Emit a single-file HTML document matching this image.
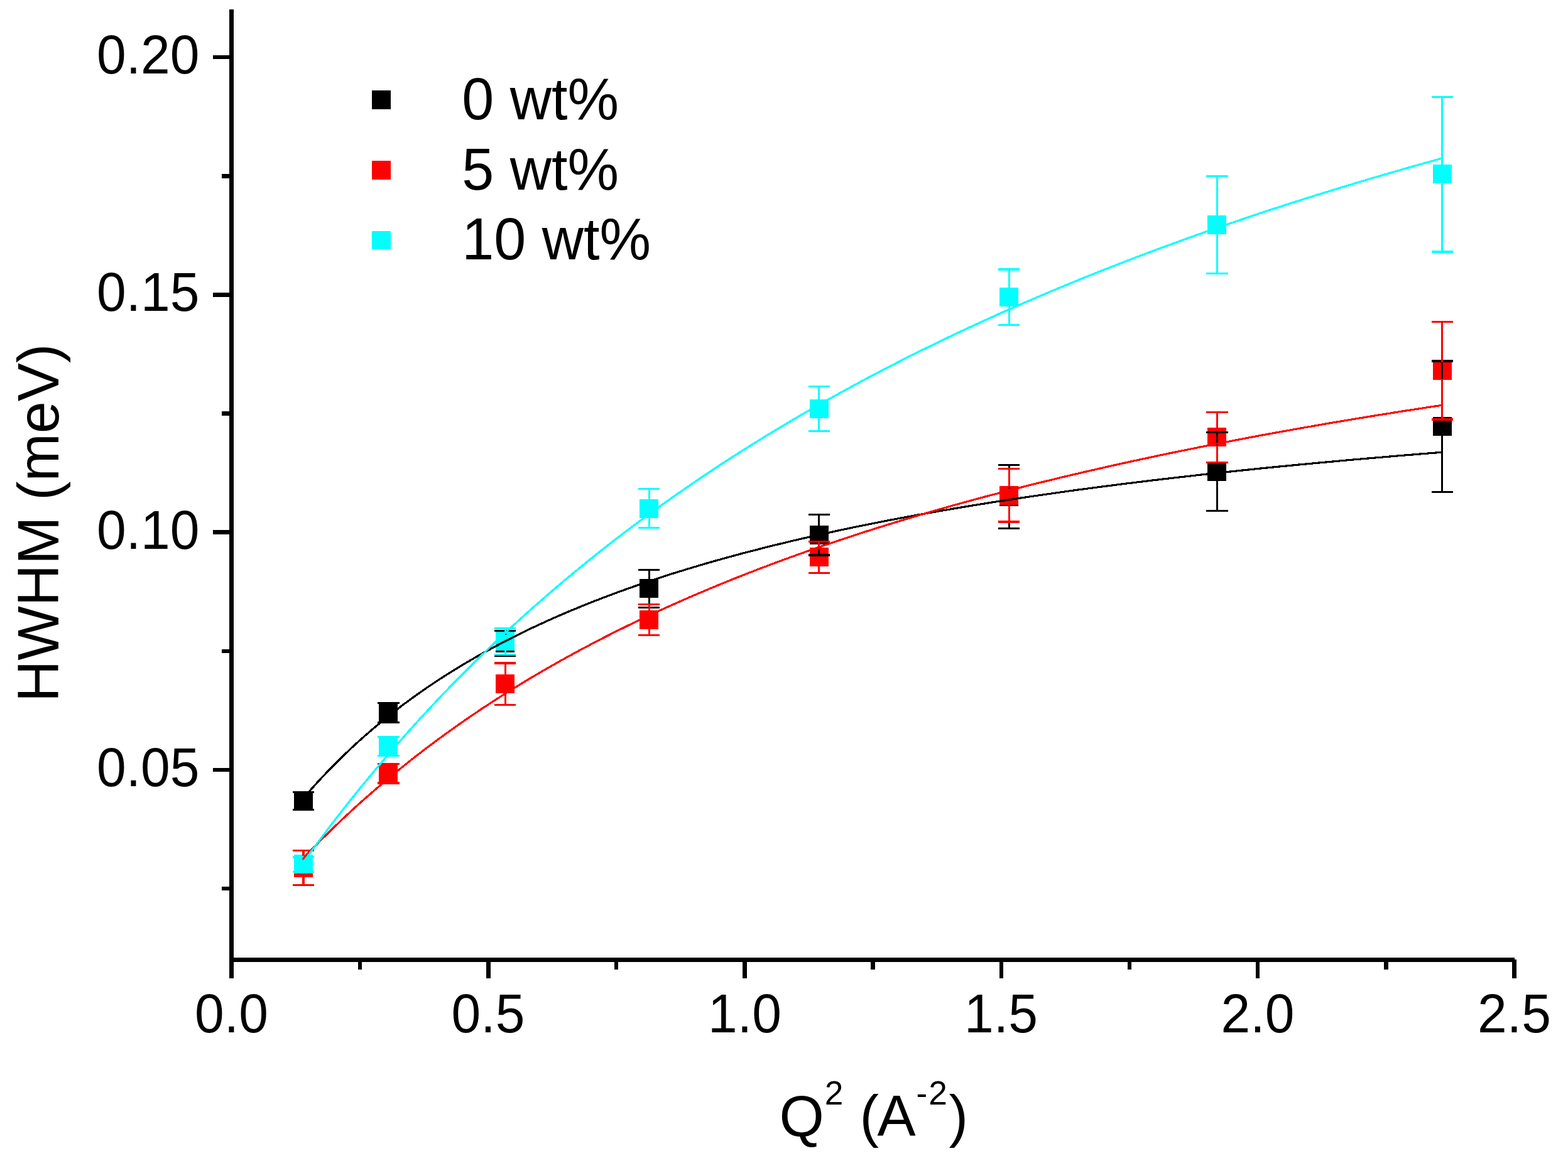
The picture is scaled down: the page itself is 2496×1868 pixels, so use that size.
<!DOCTYPE html>
<html lang="en">
<head>
<meta charset="utf-8">
<title>HWHM vs Q2</title>
<style>
html,body{margin:0;padding:0;background:#ffffff;}
body{width:2496px;height:1868px;overflow:hidden;}
svg{display:block;}
</style>
</head>
<body>
<svg width="2496" height="1868" viewBox="0 0 2496 1868" role="img" aria-label="HWHM (meV) versus Q squared for 0, 5 and 10 wt% samples with fitted curves">
<rect x="0" y="0" width="2496" height="1868" fill="#ffffff"/>
<g shape-rendering="crispEdges">
<rect x="468" y="1260" width="30" height="30" fill="#000000"/>
<rect x="603" y="1120" width="30" height="30" fill="#000000"/>
<rect x="789" y="1009" width="30" height="30" fill="#000000"/>
<rect x="1018" y="922" width="30" height="30" fill="#000000"/>
<rect x="1289" y="837" width="30" height="30" fill="#000000"/>
<rect x="1591" y="776" width="30" height="30" fill="#000000"/>
<rect x="1922" y="736" width="30" height="30" fill="#000000"/>
<rect x="2281" y="664" width="30" height="30" fill="#000000"/>
<rect x="468" y="1367" width="30" height="30" fill="#ff0000"/>
<rect x="603" y="1217" width="30" height="30" fill="#ff0000"/>
<rect x="789" y="1074" width="30" height="30" fill="#ff0000"/>
<rect x="1018" y="972" width="30" height="30" fill="#ff0000"/>
<rect x="1289" y="872" width="30" height="30" fill="#ff0000"/>
<rect x="1591" y="774" width="30" height="30" fill="#ff0000"/>
<rect x="1922" y="681" width="30" height="30" fill="#ff0000"/>
<rect x="2281" y="575" width="30" height="30" fill="#ff0000"/>
<rect x="468" y="1361" width="30" height="30" fill="#00ffff"/>
<rect x="603" y="1173" width="30" height="30" fill="#00ffff"/>
<rect x="789" y="1006" width="30" height="30" fill="#00ffff"/>
<rect x="1018" y="795" width="30" height="30" fill="#00ffff"/>
<rect x="1289" y="636" width="30" height="30" fill="#00ffff"/>
<rect x="1591" y="458" width="30" height="30" fill="#00ffff"/>
<rect x="1922" y="343" width="30" height="30" fill="#00ffff"/>
<rect x="2281" y="262" width="30" height="30" fill="#00ffff"/>
<rect x="466" y="1260" width="34" height="3" fill="#000000"/>
<rect x="466" y="1288" width="34" height="3" fill="#000000"/>
<rect x="601" y="1118" width="35" height="3" fill="#000000"/>
<rect x="601" y="1149" width="35" height="3" fill="#000000"/>
<rect x="617" y="1121" width="3" height="1" fill="#000000"/>
<rect x="617" y="1148" width="3" height="1" fill="#000000"/>
<rect x="787" y="1003" width="34" height="3" fill="#000000"/>
<rect x="787" y="1043" width="34" height="3" fill="#000000"/>
<rect x="803" y="1006" width="3" height="5" fill="#000000"/>
<rect x="803" y="1037" width="3" height="6" fill="#000000"/>
<rect x="1016" y="906" width="34" height="3" fill="#000000"/>
<rect x="1016" y="966" width="34" height="3" fill="#000000"/>
<rect x="1032" y="909" width="3" height="15" fill="#000000"/>
<rect x="1032" y="950" width="3" height="16" fill="#000000"/>
<rect x="1287" y="818" width="34" height="3" fill="#000000"/>
<rect x="1287" y="882" width="34" height="4" fill="#000000"/>
<rect x="1302" y="821" width="3" height="18" fill="#000000"/>
<rect x="1302" y="865" width="3" height="17" fill="#000000"/>
<rect x="1589" y="739" width="34" height="3" fill="#000000"/>
<rect x="1589" y="840" width="34" height="3" fill="#000000"/>
<rect x="1605" y="742" width="3" height="36" fill="#000000"/>
<rect x="1605" y="804" width="3" height="36" fill="#000000"/>
<rect x="1920" y="687" width="35" height="3" fill="#000000"/>
<rect x="1920" y="812" width="35" height="3" fill="#000000"/>
<rect x="1936" y="690" width="3" height="48" fill="#000000"/>
<rect x="1936" y="764" width="3" height="48" fill="#000000"/>
<rect x="2279" y="573" width="34" height="4" fill="#000000"/>
<rect x="2279" y="782" width="34" height="3" fill="#000000"/>
<rect x="2294" y="577" width="3" height="89" fill="#000000"/>
<rect x="2294" y="692" width="3" height="90" fill="#000000"/>
<rect x="466" y="1353" width="34" height="3" fill="#ff0000"/>
<rect x="466" y="1408" width="34" height="3" fill="#ff0000"/>
<rect x="481" y="1356" width="4" height="13" fill="#ff0000"/>
<rect x="481" y="1395" width="4" height="13" fill="#ff0000"/>
<rect x="601" y="1215" width="35" height="3" fill="#ff0000"/>
<rect x="601" y="1245" width="35" height="4" fill="#ff0000"/>
<rect x="617" y="1218" width="3" height="1" fill="#ff0000"/>
<rect x="787" y="1054" width="34" height="4" fill="#ff0000"/>
<rect x="787" y="1121" width="34" height="3" fill="#ff0000"/>
<rect x="803" y="1058" width="3" height="18" fill="#ff0000"/>
<rect x="803" y="1102" width="3" height="19" fill="#ff0000"/>
<rect x="1016" y="961" width="34" height="3" fill="#ff0000"/>
<rect x="1016" y="1010" width="34" height="3" fill="#ff0000"/>
<rect x="1032" y="964" width="3" height="10" fill="#ff0000"/>
<rect x="1032" y="1000" width="3" height="10" fill="#ff0000"/>
<rect x="1287" y="861" width="34" height="3" fill="#ff0000"/>
<rect x="1287" y="911" width="34" height="3" fill="#ff0000"/>
<rect x="1302" y="864" width="3" height="10" fill="#ff0000"/>
<rect x="1302" y="900" width="3" height="11" fill="#ff0000"/>
<rect x="1589" y="745" width="34" height="3" fill="#ff0000"/>
<rect x="1589" y="829" width="34" height="4" fill="#ff0000"/>
<rect x="1605" y="748" width="3" height="28" fill="#ff0000"/>
<rect x="1605" y="802" width="3" height="27" fill="#ff0000"/>
<rect x="1920" y="655" width="35" height="3" fill="#ff0000"/>
<rect x="1920" y="735" width="35" height="3" fill="#ff0000"/>
<rect x="1936" y="658" width="3" height="25" fill="#ff0000"/>
<rect x="1936" y="709" width="3" height="26" fill="#ff0000"/>
<rect x="2279" y="511" width="34" height="3" fill="#ff0000"/>
<rect x="2279" y="666" width="34" height="4" fill="#ff0000"/>
<rect x="2294" y="514" width="3" height="63" fill="#ff0000"/>
<rect x="2294" y="603" width="3" height="63" fill="#ff0000"/>
<rect x="466" y="1363" width="34" height="4" fill="#00ffff"/>
<rect x="466" y="1387" width="34" height="3" fill="#00ffff"/>
<rect x="601" y="1172" width="35" height="3" fill="#00ffff"/>
<rect x="601" y="1202" width="35" height="3" fill="#00ffff"/>
<rect x="617" y="1201" width="3" height="1" fill="#00ffff"/>
<rect x="787" y="999" width="34" height="3" fill="#00ffff"/>
<rect x="787" y="1041" width="34" height="3" fill="#00ffff"/>
<rect x="803" y="1002" width="3" height="6" fill="#00ffff"/>
<rect x="803" y="1034" width="3" height="7" fill="#00ffff"/>
<rect x="1016" y="777" width="34" height="3" fill="#00ffff"/>
<rect x="1016" y="839" width="34" height="3" fill="#00ffff"/>
<rect x="1032" y="780" width="3" height="17" fill="#00ffff"/>
<rect x="1032" y="823" width="3" height="16" fill="#00ffff"/>
<rect x="1287" y="614" width="34" height="3" fill="#00ffff"/>
<rect x="1287" y="685" width="34" height="3" fill="#00ffff"/>
<rect x="1302" y="617" width="3" height="21" fill="#00ffff"/>
<rect x="1302" y="664" width="3" height="21" fill="#00ffff"/>
<rect x="1589" y="427" width="34" height="4" fill="#00ffff"/>
<rect x="1589" y="516" width="34" height="3" fill="#00ffff"/>
<rect x="1605" y="431" width="3" height="29" fill="#00ffff"/>
<rect x="1605" y="486" width="3" height="30" fill="#00ffff"/>
<rect x="1920" y="279" width="35" height="3" fill="#00ffff"/>
<rect x="1920" y="434" width="35" height="3" fill="#00ffff"/>
<rect x="1936" y="282" width="3" height="63" fill="#00ffff"/>
<rect x="1936" y="371" width="3" height="63" fill="#00ffff"/>
<rect x="2279" y="153" width="34" height="3" fill="#00ffff"/>
<rect x="2279" y="399" width="34" height="4" fill="#00ffff"/>
<rect x="2294" y="156" width="3" height="108" fill="#00ffff"/>
<rect x="2294" y="290" width="3" height="109" fill="#00ffff"/>
</g>
<g fill="none" stroke-width="3.2" stroke-linejoin="round" stroke-linecap="butt" shape-rendering="crispEdges">
<path d="M483.0,1271.2 L490.0,1263.0 L497.0,1255.1 L504.0,1247.3 L511.0,1239.7 L518.0,1232.3 L525.0,1225.0 L532.0,1217.8 L539.0,1210.8 L546.0,1204.0 L553.0,1197.3 L560.0,1190.7 L567.0,1184.2 L574.0,1177.9 L581.0,1171.7 L588.0,1165.6 L595.0,1159.6 L602.0,1153.7 L609.0,1147.9 L616.0,1142.3 L623.0,1136.7 L630.0,1131.3 L637.0,1125.9 L644.0,1120.6 L651.0,1115.5 L658.0,1110.4 L664.9,1105.4 L671.9,1100.5 L678.9,1095.6 L685.9,1090.9 L692.9,1086.2 L699.9,1081.6 L706.9,1077.1 L713.9,1072.7 L720.9,1068.3 L727.9,1064.0 L734.9,1059.7 L741.9,1055.6 L748.9,1051.5 L755.9,1047.4 L762.9,1043.4 L769.9,1039.5 L776.9,1035.7 L783.9,1031.9 L790.9,1028.1 L797.9,1024.4 L804.9,1020.8 L811.9,1017.2 L818.9,1013.7 L825.9,1010.2 L832.9,1006.7 L839.9,1003.4 L846.9,1000.0 L853.9,996.7 L860.9,993.5 L867.9,990.3 L874.9,987.1 L881.9,984.0 L888.9,980.9 L895.9,977.9 L902.9,974.9 L909.9,972.0 L916.9,969.1 L923.9,966.2 L930.9,963.3 L937.9,960.5 L944.9,957.8 L951.9,955.1 L958.9,952.4 L965.9,949.7 L972.9,947.1 L979.9,944.5 L986.9,941.9 L993.9,939.4 L1000.9,936.9 L1007.9,934.4 L1014.9,932.0 L1021.9,929.5 L1028.8,927.2 L1035.8,924.8 L1042.8,922.5 L1049.8,920.2 L1056.8,917.9 L1063.8,915.6 L1070.8,913.4 L1077.8,911.2 L1084.8,909.1 L1091.8,906.9 L1098.8,904.8 L1105.8,902.7 L1112.8,900.6 L1119.8,898.5 L1126.8,896.5 L1133.8,894.5 L1140.8,892.5 L1147.8,890.6 L1154.8,888.6 L1161.8,886.7 L1168.8,884.8 L1175.8,882.9 L1182.8,881.0 L1189.8,879.2 L1196.8,877.4 L1203.8,875.6 L1210.8,873.8 L1217.8,872.0 L1224.8,870.2 L1231.8,868.5 L1238.8,866.8 L1245.8,865.1 L1252.8,863.4 L1259.8,861.7 L1266.8,860.1 L1273.8,858.5 L1280.8,856.8 L1287.8,855.2 L1294.8,853.6 L1301.8,852.1 L1308.8,850.5 L1315.8,849.0 L1322.8,847.5 L1329.8,845.9 L1336.8,844.4 L1343.8,843.0 L1350.8,841.5 L1357.8,840.0 L1364.8,838.6 L1371.8,837.2 L1378.8,835.7 L1385.8,834.3 L1392.7,832.9 L1399.7,831.6 L1406.7,830.2 L1413.7,828.8 L1420.7,827.5 L1427.7,826.2 L1434.7,824.9 L1441.7,823.6 L1448.7,822.3 L1455.7,821.0 L1462.7,819.7 L1469.7,818.4 L1476.7,817.2 L1483.7,815.9 L1490.7,814.7 L1497.7,813.5 L1504.7,812.3 L1511.7,811.1 L1518.7,809.9 L1525.7,808.7 L1532.7,807.6 L1539.7,806.4 L1546.7,805.2 L1553.7,804.1 L1560.7,803.0 L1567.7,801.9 L1574.7,800.7 L1581.7,799.6 L1588.7,798.5 L1595.7,797.5 L1602.7,796.4 L1609.7,795.3 L1616.7,794.2 L1623.7,793.2 L1630.7,792.2 L1637.7,791.1 L1644.7,790.1 L1651.7,789.1 L1658.7,788.1 L1665.7,787.1 L1672.7,786.1 L1679.7,785.1 L1686.7,784.1 L1693.7,783.1 L1700.7,782.1 L1707.7,781.2 L1714.7,780.2 L1721.7,779.3 L1728.7,778.4 L1735.7,777.4 L1742.7,776.5 L1749.7,775.6 L1756.6,774.7 L1763.6,773.8 L1770.6,772.9 L1777.6,772.0 L1784.6,771.1 L1791.6,770.2 L1798.6,769.4 L1805.6,768.5 L1812.6,767.6 L1819.6,766.8 L1826.6,765.9 L1833.6,765.1 L1840.6,764.3 L1847.6,763.4 L1854.6,762.6 L1861.6,761.8 L1868.6,761.0 L1875.6,760.2 L1882.6,759.4 L1889.6,758.6 L1896.6,757.8 L1903.6,757.0 L1910.6,756.2 L1917.6,755.4 L1924.6,754.7 L1931.6,753.9 L1938.6,753.1 L1945.6,752.4 L1952.6,751.6 L1959.6,750.9 L1966.6,750.2 L1973.6,749.4 L1980.6,748.7 L1987.6,748.0 L1994.6,747.3 L2001.6,746.5 L2008.6,745.8 L2015.6,745.1 L2022.6,744.4 L2029.6,743.7 L2036.6,743.0 L2043.6,742.4 L2050.6,741.7 L2057.6,741.0 L2064.6,740.3 L2071.6,739.6 L2078.6,739.0 L2085.6,738.3 L2092.6,737.7 L2099.6,737.0 L2106.6,736.4 L2113.6,735.7 L2120.5,735.1 L2127.5,734.4 L2134.5,733.8 L2141.5,733.2 L2148.5,732.5 L2155.5,731.9 L2162.5,731.3 L2169.5,730.7 L2176.5,730.1 L2183.5,729.5 L2190.5,728.9 L2197.5,728.3 L2204.5,727.7 L2211.5,727.1 L2218.5,726.5 L2225.5,725.9 L2232.5,725.3 L2239.5,724.7 L2246.5,724.2 L2253.5,723.6 L2260.5,723.0 L2267.5,722.5 L2274.5,721.9 L2281.5,721.3 L2288.5,720.8 L2295.5,720.2" stroke="#000000"/>
<path d="M483.0,1366.5 L490.0,1359.1 L497.0,1351.9 L504.0,1344.8 L511.0,1337.7 L518.0,1330.8 L525.0,1323.9 L532.0,1317.1 L539.0,1310.4 L546.0,1303.7 L553.0,1297.2 L560.0,1290.7 L567.0,1284.3 L574.0,1278.0 L581.0,1271.7 L588.0,1265.6 L595.0,1259.5 L602.0,1253.4 L609.0,1247.5 L616.0,1241.6 L623.0,1235.7 L630.0,1230.0 L637.0,1224.3 L644.0,1218.6 L651.0,1213.0 L658.0,1207.5 L664.9,1202.1 L671.9,1196.7 L678.9,1191.3 L685.9,1186.0 L692.9,1180.8 L699.9,1175.7 L706.9,1170.5 L713.9,1165.5 L720.9,1160.5 L727.9,1155.5 L734.9,1150.6 L741.9,1145.8 L748.9,1140.9 L755.9,1136.2 L762.9,1131.5 L769.9,1126.8 L776.9,1122.2 L783.9,1117.6 L790.9,1113.1 L797.9,1108.6 L804.9,1104.2 L811.9,1099.8 L818.9,1095.5 L825.9,1091.2 L832.9,1086.9 L839.9,1082.7 L846.9,1078.5 L853.9,1074.4 L860.9,1070.3 L867.9,1066.2 L874.9,1062.2 L881.9,1058.2 L888.9,1054.2 L895.9,1050.3 L902.9,1046.4 L909.9,1042.6 L916.9,1038.8 L923.9,1035.0 L930.9,1031.3 L937.9,1027.6 L944.9,1023.9 L951.9,1020.2 L958.9,1016.6 L965.9,1013.1 L972.9,1009.5 L979.9,1006.0 L986.9,1002.5 L993.9,999.1 L1000.9,995.6 L1007.9,992.2 L1014.9,988.9 L1021.9,985.5 L1028.8,982.2 L1035.8,979.0 L1042.8,975.7 L1049.8,972.5 L1056.8,969.3 L1063.8,966.1 L1070.8,963.0 L1077.8,959.8 L1084.8,956.8 L1091.8,953.7 L1098.8,950.6 L1105.8,947.6 L1112.8,944.6 L1119.8,941.7 L1126.8,938.7 L1133.8,935.8 L1140.8,932.9 L1147.8,930.0 L1154.8,927.2 L1161.8,924.3 L1168.8,921.5 L1175.8,918.7 L1182.8,916.0 L1189.8,913.2 L1196.8,910.5 L1203.8,907.8 L1210.8,905.1 L1217.8,902.5 L1224.8,899.8 L1231.8,897.2 L1238.8,894.6 L1245.8,892.0 L1252.8,889.5 L1259.8,886.9 L1266.8,884.4 L1273.8,881.9 L1280.8,879.4 L1287.8,876.9 L1294.8,874.5 L1301.8,872.0 L1308.8,869.6 L1315.8,867.2 L1322.8,864.9 L1329.8,862.5 L1336.8,860.1 L1343.8,857.8 L1350.8,855.5 L1357.8,853.2 L1364.8,850.9 L1371.8,848.7 L1378.8,846.4 L1385.8,844.2 L1392.7,842.0 L1399.7,839.8 L1406.7,837.6 L1413.7,835.4 L1420.7,833.2 L1427.7,831.1 L1434.7,829.0 L1441.7,826.9 L1448.7,824.8 L1455.7,822.7 L1462.7,820.6 L1469.7,818.6 L1476.7,816.5 L1483.7,814.5 L1490.7,812.5 L1497.7,810.5 L1504.7,808.5 L1511.7,806.5 L1518.7,804.5 L1525.7,802.6 L1532.7,800.6 L1539.7,798.7 L1546.7,796.8 L1553.7,794.9 L1560.7,793.0 L1567.7,791.1 L1574.7,789.3 L1581.7,787.4 L1588.7,785.6 L1595.7,783.8 L1602.7,781.9 L1609.7,780.1 L1616.7,778.3 L1623.7,776.6 L1630.7,774.8 L1637.7,773.0 L1644.7,771.3 L1651.7,769.5 L1658.7,767.8 L1665.7,766.1 L1672.7,764.4 L1679.7,762.7 L1686.7,761.0 L1693.7,759.3 L1700.7,757.7 L1707.7,756.0 L1714.7,754.4 L1721.7,752.7 L1728.7,751.1 L1735.7,749.5 L1742.7,747.9 L1749.7,746.3 L1756.6,744.7 L1763.6,743.1 L1770.6,741.5 L1777.6,740.0 L1784.6,738.4 L1791.6,736.9 L1798.6,735.3 L1805.6,733.8 L1812.6,732.3 L1819.6,730.8 L1826.6,729.3 L1833.6,727.8 L1840.6,726.3 L1847.6,724.8 L1854.6,723.4 L1861.6,721.9 L1868.6,720.5 L1875.6,719.0 L1882.6,717.6 L1889.6,716.2 L1896.6,714.8 L1903.6,713.4 L1910.6,711.9 L1917.6,710.6 L1924.6,709.2 L1931.6,707.8 L1938.6,706.4 L1945.6,705.1 L1952.6,703.7 L1959.6,702.4 L1966.6,701.0 L1973.6,699.7 L1980.6,698.4 L1987.6,697.0 L1994.6,695.7 L2001.6,694.4 L2008.6,693.1 L2015.6,691.8 L2022.6,690.5 L2029.6,689.3 L2036.6,688.0 L2043.6,686.7 L2050.6,685.5 L2057.6,684.2 L2064.6,683.0 L2071.6,681.7 L2078.6,680.5 L2085.6,679.3 L2092.6,678.1 L2099.6,676.9 L2106.6,675.6 L2113.6,674.4 L2120.5,673.2 L2127.5,672.1 L2134.5,670.9 L2141.5,669.7 L2148.5,668.5 L2155.5,667.4 L2162.5,666.2 L2169.5,665.1 L2176.5,663.9 L2183.5,662.8 L2190.5,661.6 L2197.5,660.5 L2204.5,659.4 L2211.5,658.3 L2218.5,657.1 L2225.5,656.0 L2232.5,654.9 L2239.5,653.8 L2246.5,652.8 L2253.5,651.7 L2260.5,650.6 L2267.5,649.5 L2274.5,648.4 L2281.5,647.4 L2288.5,646.3 L2295.5,645.3" stroke="#ff0000"/>
<path d="M483.0,1373.0 L490.0,1363.4 L497.0,1353.8 L504.0,1344.3 L511.0,1334.9 L518.0,1325.6 L525.0,1316.4 L532.0,1307.3 L539.0,1298.2 L546.0,1289.3 L553.0,1280.4 L560.0,1271.6 L567.0,1262.9 L574.0,1254.2 L581.0,1245.7 L588.0,1237.2 L595.0,1228.8 L602.0,1220.4 L609.0,1212.2 L616.0,1204.0 L623.0,1195.9 L630.0,1187.8 L637.0,1179.8 L644.0,1171.9 L651.0,1164.1 L658.0,1156.3 L664.9,1148.6 L671.9,1141.0 L678.9,1133.4 L685.9,1125.9 L692.9,1118.4 L699.9,1111.0 L706.9,1103.7 L713.9,1096.4 L720.9,1089.2 L727.9,1082.1 L734.9,1075.0 L741.9,1068.0 L748.9,1061.0 L755.9,1054.1 L762.9,1047.2 L769.9,1040.4 L776.9,1033.7 L783.9,1027.0 L790.9,1020.3 L797.9,1013.7 L804.9,1007.2 L811.9,1000.7 L818.9,994.3 L825.9,987.9 L832.9,981.5 L839.9,975.2 L846.9,969.0 L853.9,962.8 L860.9,956.7 L867.9,950.6 L874.9,944.5 L881.9,938.5 L888.9,932.5 L895.9,926.6 L902.9,920.7 L909.9,914.9 L916.9,909.1 L923.9,903.4 L930.9,897.7 L937.9,892.0 L944.9,886.4 L951.9,880.8 L958.9,875.3 L965.9,869.8 L972.9,864.3 L979.9,858.9 L986.9,853.5 L993.9,848.2 L1000.9,842.9 L1007.9,837.6 L1014.9,832.4 L1021.9,827.2 L1028.8,822.0 L1035.8,816.9 L1042.8,811.8 L1049.8,806.8 L1056.8,801.8 L1063.8,796.8 L1070.8,791.8 L1077.8,786.9 L1084.8,782.0 L1091.8,777.2 L1098.8,772.4 L1105.8,767.6 L1112.8,762.8 L1119.8,758.1 L1126.8,753.4 L1133.8,748.8 L1140.8,744.1 L1147.8,739.5 L1154.8,735.0 L1161.8,730.4 L1168.8,725.9 L1175.8,721.5 L1182.8,717.0 L1189.8,712.6 L1196.8,708.2 L1203.8,703.9 L1210.8,699.5 L1217.8,695.2 L1224.8,690.9 L1231.8,686.7 L1238.8,682.5 L1245.8,678.3 L1252.8,674.1 L1259.8,669.9 L1266.8,665.8 L1273.8,661.7 L1280.8,657.7 L1287.8,653.6 L1294.8,649.6 L1301.8,645.6 L1308.8,641.6 L1315.8,637.7 L1322.8,633.8 L1329.8,629.9 L1336.8,626.0 L1343.8,622.2 L1350.8,618.3 L1357.8,614.5 L1364.8,610.7 L1371.8,607.0 L1378.8,603.2 L1385.8,599.5 L1392.7,595.8 L1399.7,592.2 L1406.7,588.5 L1413.7,584.9 L1420.7,581.3 L1427.7,577.7 L1434.7,574.1 L1441.7,570.6 L1448.7,567.1 L1455.7,563.6 L1462.7,560.1 L1469.7,556.6 L1476.7,553.2 L1483.7,549.8 L1490.7,546.3 L1497.7,543.0 L1504.7,539.6 L1511.7,536.2 L1518.7,532.9 L1525.7,529.6 L1532.7,526.3 L1539.7,523.0 L1546.7,519.8 L1553.7,516.6 L1560.7,513.3 L1567.7,510.1 L1574.7,507.0 L1581.7,503.8 L1588.7,500.6 L1595.7,497.5 L1602.7,494.4 L1609.7,491.3 L1616.7,488.2 L1623.7,485.2 L1630.7,482.1 L1637.7,479.1 L1644.7,476.1 L1651.7,473.1 L1658.7,470.1 L1665.7,467.1 L1672.7,464.2 L1679.7,461.2 L1686.7,458.3 L1693.7,455.4 L1700.7,452.5 L1707.7,449.6 L1714.7,446.8 L1721.7,443.9 L1728.7,441.1 L1735.7,438.3 L1742.7,435.5 L1749.7,432.7 L1756.6,429.9 L1763.6,427.2 L1770.6,424.4 L1777.6,421.7 L1784.6,419.0 L1791.6,416.3 L1798.6,413.6 L1805.6,410.9 L1812.6,408.2 L1819.6,405.6 L1826.6,402.9 L1833.6,400.3 L1840.6,397.7 L1847.6,395.1 L1854.6,392.5 L1861.6,390.0 L1868.6,387.4 L1875.6,384.9 L1882.6,382.3 L1889.6,379.8 L1896.6,377.3 L1903.6,374.8 L1910.6,372.3 L1917.6,369.8 L1924.6,367.4 L1931.6,364.9 L1938.6,362.5 L1945.6,360.1 L1952.6,357.7 L1959.6,355.3 L1966.6,352.9 L1973.6,350.5 L1980.6,348.1 L1987.6,345.8 L1994.6,343.4 L2001.6,341.1 L2008.6,338.8 L2015.6,336.4 L2022.6,334.1 L2029.6,331.8 L2036.6,329.6 L2043.6,327.3 L2050.6,325.0 L2057.6,322.8 L2064.6,320.5 L2071.6,318.3 L2078.6,316.1 L2085.6,313.9 L2092.6,311.7 L2099.6,309.5 L2106.6,307.3 L2113.6,305.2 L2120.5,303.0 L2127.5,300.9 L2134.5,298.7 L2141.5,296.6 L2148.5,294.5 L2155.5,292.4 L2162.5,290.2 L2169.5,288.2 L2176.5,286.1 L2183.5,284.0 L2190.5,281.9 L2197.5,279.9 L2204.5,277.8 L2211.5,275.8 L2218.5,273.8 L2225.5,271.8 L2232.5,269.7 L2239.5,267.7 L2246.5,265.7 L2253.5,263.8 L2260.5,261.8 L2267.5,259.8 L2274.5,257.9 L2281.5,255.9 L2288.5,254.0 L2295.5,252.0" stroke="#00ffff"/>
</g>
<g fill="#000000" shape-rendering="crispEdges">
<rect x="365" y="15" width="7" height="1543"/>
<rect x="365" y="1525" width="2046" height="7"/>
<rect x="570" y="1528" width="6" height="16"/>
<rect x="774" y="1528" width="7" height="30"/>
<rect x="978" y="1528" width="6" height="16"/>
<rect x="1182" y="1528" width="7" height="30"/>
<rect x="1386" y="1528" width="7" height="16"/>
<rect x="1591" y="1528" width="6" height="30"/>
<rect x="1795" y="1528" width="6" height="16"/>
<rect x="1999" y="1528" width="6" height="30"/>
<rect x="2203" y="1528" width="7" height="16"/>
<rect x="2407" y="1528" width="7" height="30"/>
<rect x="339" y="88" width="30" height="6"/>
<rect x="353" y="277" width="16" height="7"/>
<rect x="339" y="466" width="30" height="7"/>
<rect x="353" y="655" width="16" height="7"/>
<rect x="339" y="844" width="30" height="7"/>
<rect x="353" y="1034" width="16" height="6"/>
<rect x="339" y="1223" width="30" height="6"/>
<rect x="353" y="1412" width="16" height="6"/>
</g>
<g font-family="'Liberation Sans', Arial, sans-serif" fill="#000000">
<text transform="translate(317.4,117) scale(1,1.035)" font-size="84" text-anchor="end">0.20</text>
<text transform="translate(317.4,495) scale(1,1.035)" font-size="84" text-anchor="end">0.15</text>
<text transform="translate(317.4,874) scale(1,1.035)" font-size="84" text-anchor="end">0.10</text>
<text transform="translate(317.4,1252) scale(1,1.035)" font-size="84" text-anchor="end">0.05</text>
<text transform="translate(368.5,1644) scale(1,1.035)" font-size="84" text-anchor="middle">0.0</text>
<text transform="translate(777,1644) scale(1,1.035)" font-size="84" text-anchor="middle">0.5</text>
<text transform="translate(1185.5,1644) scale(1,1.035)" font-size="84" text-anchor="middle">1.0</text>
<text transform="translate(1593.5,1644) scale(1,1.035)" font-size="84" text-anchor="middle">1.5</text>
<text transform="translate(2002,1644) scale(1,1.035)" font-size="84" text-anchor="middle">2.0</text>
<text transform="translate(2410.5,1644) scale(1,1.035)" font-size="84" text-anchor="middle">2.5</text>
<text transform="translate(93,1117.9) rotate(-90) scale(1,1.02)" font-size="91.7">HWHM (meV)</text>
<text transform="translate(0,1809) scale(1,1.02)" font-size="91.7"><tspan x="1240.4" y="0">Q</tspan><tspan x="1312.7" y="-49.2" font-size="53.2">2</tspan> <tspan x="1368.5" y="0">(</tspan><tspan x="1396.4" y="0">A</tspan><tspan x="1458.6" y="-49.2" font-size="53.2">-</tspan><tspan x="1478.3" y="-49.2" font-size="53.2">2</tspan><tspan x="1510.6" y="0">)</tspan></text>
<text transform="translate(735.3,190) scale(1,1.03)" font-size="91.7">0 wt%</text>
<text transform="translate(735.3,301.7) scale(1,1.03)" font-size="91.7">5 wt%</text>
<text transform="translate(735.3,413.4) scale(1,1.03)" font-size="91.7">10 wt%</text>
</g>
<g shape-rendering="crispEdges">
<rect x="592" y="144" width="30" height="30" fill="#000000"/>
<rect x="592" y="256" width="30" height="30" fill="#ff0000"/>
<rect x="592" y="368" width="30" height="29" fill="#00ffff"/>
</g>
</svg>
</body>
</html>
